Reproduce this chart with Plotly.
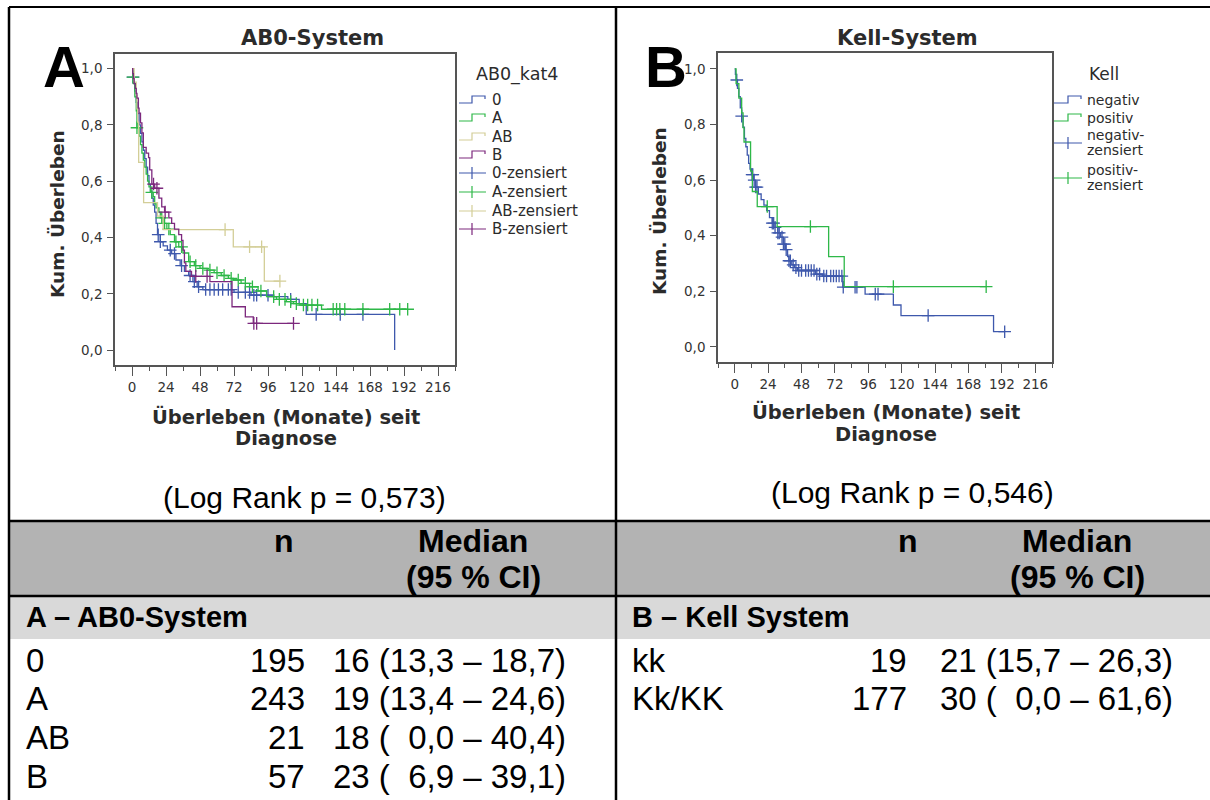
import plotly.graph_objects as go

W, H = 1210, 800

# ---------------- Kaplan-Meier data: AB0 system (months, cumulative survival) ----------------
abo_labels = ["0", "A", "AB", "B"]
abo_colors = ["#3e58ac", "#2eb848", "#d3ce97", "#7c287d"]

abo0_t = [0, 0.5, 1, 2, 3, 4, 5, 6, 7, 8, 9, 10, 11, 12, 13, 14, 15, 16, 17, 18, 20, 22, 25, 28, 31,
          34, 37, 40, 43, 46, 50, 72, 84, 100, 110, 118, 123, 185.4]
abo0_s = [1.0, 0.97, 0.95, 0.92, 0.88, 0.84, 0.80, 0.77, 0.74, 0.71, 0.68, 0.65, 0.62, 0.59, 0.565,
          0.54, 0.515, 0.49, 0.45, 0.41, 0.385, 0.37, 0.355, 0.343, 0.32, 0.30, 0.28, 0.265, 0.243,
          0.225, 0.215, 0.205, 0.195, 0.19, 0.18, 0.165, 0.127, 0.0]
abo0_cens = [0.7, 18.5, 20, 27, 30, 35, 41, 44, 47, 52, 55, 58, 61, 64, 68, 70, 75, 80, 83, 86, 88,
             96, 112, 130, 147, 163]

aboA_t = [0, 0.5, 1, 2, 3, 3.5, 5, 6, 7, 8, 9, 10, 11, 12, 13, 15, 16, 17, 19, 20, 22, 24.6, 27, 30,
          33, 36, 40, 44, 48, 53, 58, 63, 68, 71.5, 77, 83, 89, 95, 102, 109, 114, 118.5, 133.8, 194.6]
aboA_s = [1.0, 0.97, 0.947, 0.9, 0.85, 0.79, 0.76, 0.73, 0.70, 0.675, 0.65, 0.625, 0.60, 0.58, 0.56,
          0.545, 0.52, 0.505, 0.49, 0.47, 0.45, 0.43, 0.41, 0.385, 0.367, 0.345, 0.314, 0.30, 0.29,
          0.284, 0.275, 0.265, 0.255, 0.249, 0.237, 0.225, 0.21, 0.19, 0.18, 0.172, 0.165, 0.16,
          0.145, 0.145]
aboA_cens = [0.7, 3.5, 14, 21, 23, 26, 31, 35, 41, 45, 50, 55, 60, 65, 70, 75, 80, 85, 91, 100, 104,
             108, 112, 116, 121, 124, 127, 131, 142, 144.4, 146.7, 150.2, 163, 181.9, 189, 194.6]

aboAB_t = [0, 1.5, 3, 3.5, 4, 4.7, 8.2, 18, 22, 71.5, 93.4, 104.4]
aboAB_s = [1.0, 0.952, 0.905, 0.857, 0.81, 0.667, 0.524, 0.476, 0.428, 0.367, 0.245, 0.245]
aboAB_cens = [65.7, 83, 91.5, 104.4]

aboB_t = [0, 0.5, 1, 1.5, 2.3, 3, 3.5, 4.5, 5, 6, 7, 8, 10, 11.7, 12.5, 14, 16, 19, 21, 23, 26, 28,
          30, 33, 35, 36, 37, 38, 42, 55, 70.6, 80, 85.6, 114]
aboB_s = [1.0, 0.982, 0.965, 0.947, 0.93, 0.912, 0.895, 0.86, 0.842, 0.807, 0.772, 0.72, 0.70, 0.684,
          0.64, 0.59, 0.575, 0.54, 0.509, 0.49, 0.47, 0.45, 0.43, 0.41, 0.39, 0.355, 0.31, 0.28,
          0.262, 0.243, 0.154, 0.118, 0.095, 0.095]
aboB_cens = [15.2, 17.6, 23.4, 45, 53, 86, 88, 114]

# ---------------- Kaplan-Meier data: Kell system ----------------
kell_labels = ["negativ", "positiv"]
kell_colors = ["#3e58ac", "#2eb848"]

kneg_t = [0, 0.5, 1, 2, 3, 4, 5, 6, 7, 8, 9, 10, 11, 12, 13.5, 15, 17, 19, 21, 23, 25, 27, 29, 31, 33,
          35, 36.5, 38, 39, 41, 43, 45, 58, 63, 77.7, 93.7, 114, 119.5, 186, 194]
kneg_s = [1.0, 0.98, 0.96, 0.93, 0.90, 0.86, 0.83, 0.79, 0.75, 0.72, 0.69, 0.66, 0.64, 0.62, 0.60,
          0.575, 0.55, 0.53, 0.51, 0.49, 0.465, 0.445, 0.43, 0.41, 0.395, 0.37, 0.35, 0.325, 0.31,
          0.295, 0.285, 0.275, 0.262, 0.255, 0.215, 0.19, 0.151, 0.113, 0.055, 0.055]
kneg_cens = [1.5, 5, 12.5, 13, 14, 15, 16, 27, 28, 29, 31, 32, 34, 35, 36, 37, 39, 40, 42, 44, 46, 48,
             51, 53, 55, 57, 59, 61, 64, 66, 69, 71, 73, 75, 77, 78, 86.5, 87.8, 101, 103, 139, 194]

kpos_t = [0, 1, 3, 5, 6, 6.7, 11.4, 12.7, 16.2, 30.5, 67.5, 78.7, 180.7]
kpos_s = [1.0, 0.947, 0.895, 0.842, 0.789, 0.737, 0.632, 0.559, 0.505, 0.433, 0.325, 0.217, 0.217]
kpos_cens = [23.4, 54.4, 114, 180.7]

# ---------------- summary table ----------------
abo_n = ["195", "243", "21", "57"]
abo_median = ["16 (13,3 – 18,7)", "19 (13,4 – 24,6)", "18 (\u00a0\u00a00,0 – 40,4)", "23 (\u00a0\u00a06,9 – 39,1)"]
kell_rows = ["kk", "Kk/KK"]
kell_n = ["19", "177"]
kell_median = ["21 (15,7 – 26,3)", "30 (\u00a0\u00a00,0 – 61,6)"]
logrank = ["(Log Rank p = 0,573)", "(Log Rank p = 0,546)"]

y_ticks = [0.0, 0.2, 0.4, 0.6, 0.8, 1.0]


def fx(x):
    return x / W


def fy(y):
    return 1 - y / H


def surv_at(t, times, surv):
    v = surv[0]
    for ti, si in zip(times, surv):
        if ti <= t:
            v = si
        else:
            break
    return v


fig = go.Figure()


def add_curve(times, surv, cens, color, xa, ya):
    fig.add_trace(go.Scatter(x=times, y=surv, mode="lines", xaxis=xa, yaxis=ya,
                             line=dict(shape="hv", color=color, width=1.3),
                             showlegend=False, hoverinfo="skip"))
    fig.add_trace(go.Scatter(x=cens, y=[surv_at(c, times, surv) for c in cens], mode="markers",
                             xaxis=xa, yaxis=ya,
                             marker=dict(symbol="cross-thin", size=9, color=color,
                                         line=dict(width=1.3, color=color)),
                             showlegend=False, hoverinfo="skip"))


abo_series = [(abo0_t, abo0_s, abo0_cens), (aboA_t, aboA_s, aboA_cens),
              (aboAB_t, aboAB_s, aboAB_cens), (aboB_t, aboB_s, aboB_cens)]
for (t, s, c), col in zip(abo_series, abo_colors):
    add_curve(t, s, c, col, "x", "y")

kell_series = [(kneg_t, kneg_s, kneg_cens), (kpos_t, kpos_s, kpos_cens)]
for (t, s, c), col in zip(kell_series, kell_colors):
    add_curve(t, s, c, col, "x2", "y2")

chart_font = "DejaVu Sans"
table_font = "Liberation Sans, Arial"
axis_col = "#555555"
txt_col = "#2b2b2b"


def xaxis_cfg(x0, x1, yref):
    return dict(domain=[fx(x0), fx(x1)], range=[-12, 228], anchor=yref, tickmode="linear", tick0=0,
                dtick=24, ticks="outside", ticklen=9, tickwidth=1.2, tickcolor=axis_col,
                minor=dict(dtick=12, tick0=0, ticks="outside", ticklen=4, tickwidth=1.2,
                           tickcolor=axis_col),
                showline=True, mirror=True, linecolor=axis_col, linewidth=1.6,
                showgrid=False, zeroline=False,
                tickfont=dict(family=chart_font, size=13.5, color="#333333"))


def yaxis_cfg(ytop, ybot, rng, xref):
    return dict(domain=[fy(ybot), fy(ytop)], range=rng, anchor=xref, tickmode="array",
                tickvals=y_ticks, tickformat=".1f", ticks="outside", ticklen=6, tickwidth=1.2,
                tickcolor=axis_col, showline=True, mirror=True, linecolor=axis_col, linewidth=1.6,
                showgrid=False, zeroline=False, ticklabelstandoff=2,
                tickfont=dict(family=chart_font, size=13.5, color="#333333"))


ann = []
shapes = []


def text(x, y, s, size, family=chart_font, color=txt_col, bold=False, xanchor="center",
         yanchor="middle", angle=0):
    if bold:
        s = "<b>" + s + "</b>"
    ann.append(dict(x=fx(x), y=fy(y), xref="paper", yref="paper", text=s, showarrow=False,
                    xanchor=xanchor, yanchor=yanchor, textangle=angle,
                    font=dict(family=family, size=size, color=color)))


def path(d_pts, color, width=1.2, layer="above"):
    d = ""
    for seg in d_pts:
        d += "M" + " L".join(f"{fx(px):.5f},{fy(py):.5f}" for px, py in seg) + " "
    shapes.append(dict(type="path", path=d.strip(), xref="paper", yref="paper",
                       line=dict(color=color, width=width), layer=layer))


def rect(x0, y0, x1, y1, fill):
    shapes.append(dict(type="rect", x0=fx(x0), x1=fx(x1), y0=fy(y1), y1=fy(y0), xref="paper",
                       yref="paper", fillcolor=fill, line=dict(width=0), layer="below"))


def line(x0, y0, x1, y1, width=2, color="black"):
    shapes.append(dict(type="line", x0=fx(x0), x1=fx(x1), y0=fy(y0), y1=fy(y1), xref="paper",
                       yref="paper", line=dict(color=color, width=width), layer="above"))


# ---- chart titles, axis titles ----
text(312, 38, "AB0-System", 21, bold=True)
text(907, 38, "Kell-System", 21, bold=True)
text(57, 214, "Kum. Überleben", 18.5, bold=True, angle=-90)
text(660, 211, "Kum. Überleben", 18.5, bold=True, angle=-90)
text(286, 417, "Überleben (Monate) seit", 19.5, bold=True)
text(286, 439, "Diagnose", 19.5, bold=True)
text(886, 412, "Überleben (Monate) seit", 19.5, bold=True)
text(886, 434, "Diagnose", 19.5, bold=True)

# panel letters
text(64, 66, "A", 58, family=table_font, color="black", bold=True)
text(666, 66, "B", 58, family=table_font, color="black", bold=True)

# ---- legends ----
text(517, 74, "AB0_kat4", 17.5)
abo_leg_y = [100, 118, 137, 155]
for lab, col, yc in zip(abo_labels, abo_colors, abo_leg_y):
    path([[(459, yc + 3), (472, yc + 3), (472, yc - 4), (485, yc - 4), (485, yc - 1)]], col)
    text(490, yc, lab, 15, xanchor="left")
abo_cens_y = [173, 192, 211, 229]
for lab, col, yc in zip(abo_labels, abo_colors, abo_cens_y):
    path([[(459, yc), (486, yc)], [(472, yc - 6), (472, yc + 6)]], col)
    text(490, yc, lab + "-zensiert", 15, xanchor="left")

text(1104, 74, "Kell", 17)
kell_leg_y = [100, 118]
for lab, col, yc in zip(kell_labels, kell_colors, kell_leg_y):
    path([[(1054, yc + 3), (1068, yc + 3), (1068, yc - 4), (1081, yc - 4), (1081, yc - 1)]], col)
    text(1085, yc, lab, 14, xanchor="left")
kell_cens_y = [143, 178]
for lab, col, yc in zip(kell_labels, kell_colors, kell_cens_y):
    path([[(1054, yc), (1082, yc)], [(1068, yc - 6), (1068, yc + 6)]], col)
    text(1085, yc - 8, lab + "-", 14, xanchor="left")
    text(1085, yc + 7, "zensiert", 14, xanchor="left")

# ---- log rank ----
text(304, 497, logrank[0], 30, family=table_font, color="black")
text(912, 492, logrank[1], 30, family=table_font, color="black")

# ---- table ----
rect(9, 521, W, 596, "#b3b3b3")
rect(9, 596, W, 639, "#d9d9d9")
line(9, 521, W, 521, 2.5)
line(9, 596, W, 596, 2.5)
line(9, 7, W, 7, 2)
line(9, 7, 9, H, 2.5)
line(616, 7, 616, H, 2.5)

hf = 32
tf = 33
for xn, xm in [(284, 473), (908, 1077)]:
    text(xn, 541, "n", hf, family=table_font, color="black", bold=True)
    text(xm, 541, "Median", hf, family=table_font, color="black", bold=True)
    text(xm, 577, "(95 % CI)", hf, family=table_font, color="black", bold=True)

text(24, 617, "A – AB0-System", 29, family=table_font, color="black", bold=True, xanchor="left")
text(630, 617, "B – Kell System", 29, family=table_font, color="black", bold=True, xanchor="left")

row_y = [660, 698, 737, 776]
for lab, n, med, yy in zip(abo_labels, abo_n, abo_median, row_y):
    text(24, yy, lab, tf, family=table_font, color="black", xanchor="left")
    text(307, yy, n, tf, family=table_font, color="black", xanchor="right")
    text(331, yy, med, tf, family=table_font, color="black", xanchor="left")
for lab, n, med, yy in zip(kell_rows, kell_n, kell_median, row_y):
    text(630, yy, lab, tf, family=table_font, color="black", xanchor="left")
    text(909, yy, n, tf, family=table_font, color="black", xanchor="right")
    text(938, yy, med, tf, family=table_font, color="black", xanchor="left")

fig.update_layout(
    width=W, height=H, margin=dict(l=0, r=0, t=0, b=0), autosize=False,
    paper_bgcolor="white", plot_bgcolor="white", separators=",.", showlegend=False,
    xaxis=xaxis_cfg(115, 455, "y"), yaxis=yaxis_cfg(54, 365, [-0.053, 1.052], "x"),
    xaxis2=xaxis_cfg(718, 1052, "y2"), yaxis2=yaxis_cfg(53, 362, [-0.054, 1.057], "x2"),
    annotations=ann, shapes=shapes,
)

fig.write_html("out.html", config={"displayModeBar": False})
